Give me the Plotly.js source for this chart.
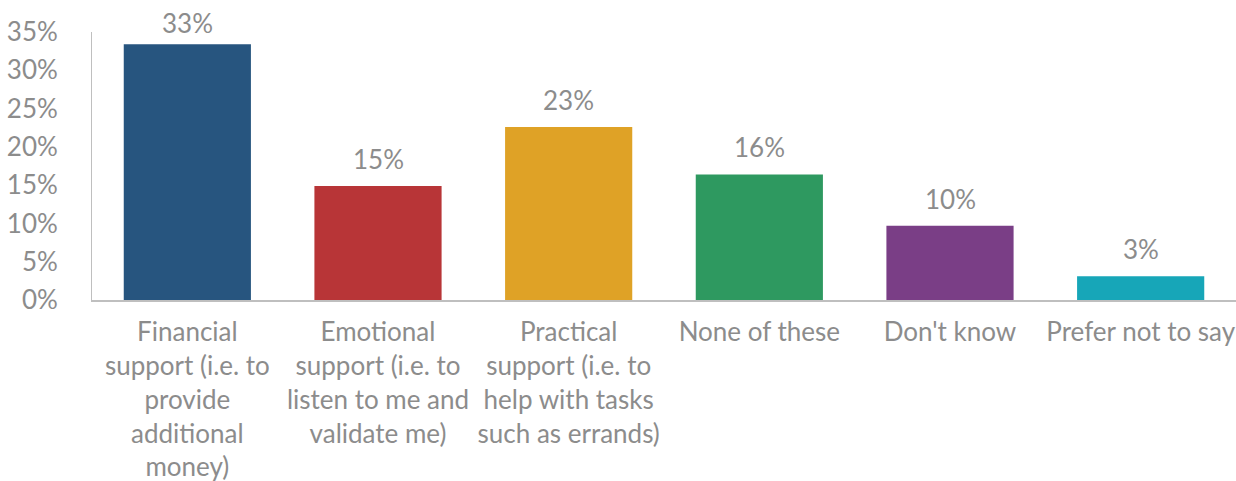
<!DOCTYPE html>
<html><head><meta charset="utf-8">
<script src="https://cdn.plot.ly/plotly-3.0.1.min.js"></script>
<style>html,body{margin:0;padding:0;background:#fff}#chart{width:1236px;height:481px}</style>
</head><body><div id="chart"></div>
<script>
const categories = [
  "Financial<br>support (i.e. to<br>provide<br>additional<br>money)",
  "Emotional<br>support (i.e. to<br>listen to me and<br>validate me)",
  "Practical<br>support (i.e. to<br>help with tasks<br>such as errands)",
  "None of these",
  "Don't know",
  "Prefer not to say"
];
const values = [33.4, 14.9, 22.6, 16.4, 9.7, 3.1];
const colors = ["#27557F", "#B83537", "#DFA226", "#2E9960", "#7A3E86", "#17A6B8"];
const yTicks = [0, 5, 10, 15, 20, 25, 30, 35];
const yTickText = yTicks.map(v => v + "%");

const grey = "#8c8c8c";
const font = "Lato, 'Open Sans', sans-serif";

const annotations = categories.map((c, i) => ({
  x: c, y: values[i], xref: "x", yref: "y",
  text: Math.round(values[i]) + "%",
  showarrow: false, yanchor: "bottom", yshift: i === 0 ? 3 : 9,
  font: {family: font, size: 26, color: grey}
}));

Plotly.newPlot("chart", [{
  type: "bar",
  x: categories,
  y: values,
  marker: {color: colors},
  cliponaxis: false,
  hoverinfo: "none"
}], {
  width: 1236, height: 481,
  margin: {l: 92, r: 0, t: 32, b: 181},
  paper_bgcolor: "#fff", plot_bgcolor: "#fff",
  bargap: 0.333,
  showlegend: false,
  annotations: annotations,
  font: {family: font, size: 26, color: grey},
  xaxis: {
    type: "category",
    showline: true, linecolor: "#bfbfbf", linewidth: 2,
    showgrid: false, zeroline: false, ticks: "",
    tickfont: {family: font, size: 26, color: grey},
    tickangle: 0,
    ticklabelstandoff: 8
  },
  yaxis: {
    range: [0, 35],
    tickvals: yTicks, ticktext: yTickText,
    showline: true, linecolor: "#bfbfbf", linewidth: 1,
    showgrid: false, zeroline: false, ticks: "",
    tickfont: {family: font, size: 26, color: grey},
    ticklabelstandoff: 28
  }
}, {displayModeBar: false, staticPlot: true});
</script>
</body></html>
